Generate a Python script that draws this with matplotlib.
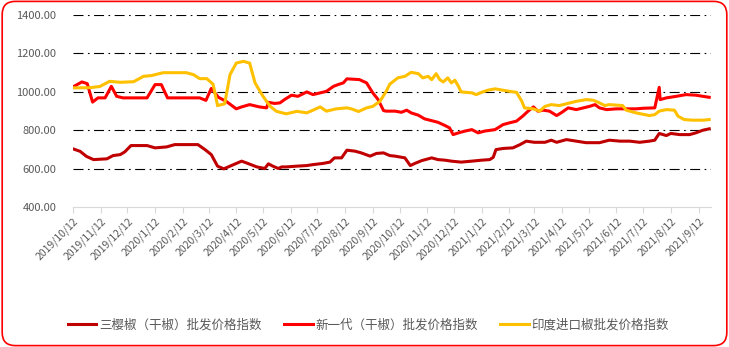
import pandas as pd
import matplotlib.pyplot as plt
import matplotlib.dates as mdates
from matplotlib.patches import FancyBboxPatch

plt.rcParams['font.family'] = ['Noto Sans CJK SC', 'DejaVu Sans']

#series names
name_sanying = "三樱椒（干椒）批发价格指数"
name_xinyidai = "新一代（干椒）批发价格指数"
name_india = "印度进口椒批发价格指数"

#三樱椒 index
sanying_dates = ["2019-10-12", "2019-10-20", "2019-10-27", "2019-11-04", "2019-11-19", "2019-11-26",
                 "2019-12-04", "2019-12-09", "2019-12-16", "2020-01-03", "2020-01-12", "2020-01-25",
                 "2020-02-03", "2020-02-29", "2020-03-08", "2020-03-15", "2020-03-22", "2020-03-29",
                 "2020-04-09", "2020-04-18", "2020-04-25", "2020-05-05", "2020-05-14", "2020-05-18",
                 "2020-05-23", "2020-05-29", "2020-06-02", "2020-06-07", "2020-06-19", "2020-06-30",
                 "2020-07-07", "2020-07-18", "2020-07-26", "2020-07-31", "2020-08-08", "2020-08-14",
                 "2020-08-23", "2020-08-30", "2020-09-09", "2020-09-16", "2020-09-24", "2020-10-01",
                 "2020-10-07", "2020-10-18", "2020-10-24", "2020-10-29", "2020-11-06", "2020-11-17",
                 "2020-11-24", "2020-12-02", "2020-12-09", "2020-12-20", "2021-01-01", "2021-01-12",
                 "2021-01-21", "2021-01-25", "2021-01-28", "2021-02-05", "2021-02-16", "2021-02-24",
                 "2021-03-03", "2021-03-12", "2021-03-24", "2021-03-31", "2021-04-06", "2021-04-17",
                 "2021-04-28", "2021-05-09", "2021-05-24", "2021-06-04", "2021-06-16", "2021-06-27",
                 "2021-07-08", "2021-07-19", "2021-07-25", "2021-07-30", "2021-08-07", "2021-08-12",
                 "2021-08-22", "2021-09-02", "2021-09-09", "2021-09-17", "2021-09-24"]
sanying_values = [704, 691, 665, 648, 652, 669,
                  674, 688, 721, 721, 709, 714,
                  726, 726, 700, 674, 614, 600,
                  622, 640, 628, 610, 602, 626,
                  614, 602, 610, 610, 614, 617,
                  622, 628, 635, 657, 657, 697,
                  692, 683, 666, 680, 683, 669,
                  666, 657, 617, 628, 643, 657,
                  648, 645, 640, 635, 640, 645,
                  648, 660, 700, 706, 709, 726,
                  744, 738, 738, 749, 738, 752,
                  744, 736, 736, 749, 744, 744,
                  738, 744, 749, 784, 773, 784,
                  778, 778, 787, 801, 808]

#新一代 index
xinyidai_dates = ["2019-10-12", "2019-10-22", "2019-10-28", "2019-11-03", "2019-11-09", "2019-11-17",
                  "2019-11-24", "2019-11-30", "2019-12-07", "2020-01-03", "2020-01-12", "2020-01-19",
                  "2020-01-26", "2020-03-02", "2020-03-09", "2020-03-15", "2020-03-23", "2020-04-01",
                  "2020-04-12", "2020-04-18", "2020-04-27", "2020-05-08", "2020-05-16", "2020-05-18",
                  "2020-05-25", "2020-05-31", "2020-06-05", "2020-06-13", "2020-06-20", "2020-06-30",
                  "2020-07-07", "2020-07-15", "2020-07-22", "2020-07-30", "2020-08-04", "2020-08-10",
                  "2020-08-14", "2020-08-28", "2020-09-05", "2020-09-12", "2020-09-18", "2020-09-24",
                  "2020-09-27", "2020-10-07", "2020-10-14", "2020-10-20", "2020-10-25", "2020-11-02",
                  "2020-11-09", "2020-11-19", "2020-11-24", "2020-12-02", "2020-12-07", "2020-12-11",
                  "2020-12-17", "2020-12-24", "2021-01-01", "2021-01-08", "2021-01-15", "2021-01-27",
                  "2021-02-05", "2021-02-12", "2021-02-20", "2021-02-27", "2021-03-05", "2021-03-11",
                  "2021-03-16", "2021-03-22", "2021-03-29", "2021-04-06", "2021-04-11", "2021-04-19",
                  "2021-04-28", "2021-05-06", "2021-05-13", "2021-05-19", "2021-05-24", "2021-06-01",
                  "2021-06-12", "2021-06-23", "2021-07-04", "2021-07-12", "2021-07-25", "2021-07-27",
                  "2021-07-30", "2021-07-31", "2021-08-07", "2021-08-18", "2021-08-29", "2021-09-09",
                  "2021-09-17", "2021-09-24"]
xinyidai_values = [1026, 1052, 1043, 947, 969, 969,
                   1029, 977, 969, 969, 1038, 1038,
                   969, 969, 956, 1018, 972, 950,
                   912, 922, 934, 922, 917, 946,
                   940, 943, 960, 983, 977, 1000,
                   986, 995, 1003, 1029, 1038, 1047,
                   1068, 1064, 1047, 995, 960, 903,
                   900, 900, 894, 905, 891, 879,
                   860, 848, 842, 825, 813, 778,
                   787, 796, 804, 787, 796, 804,
                   830, 839, 848, 874, 900, 922,
                   900, 905, 900, 877, 891, 917,
                   908, 917, 925, 934, 917, 908,
                   912, 912, 912, 915, 917, 960,
                   1024, 960, 969, 977, 986, 983,
                   977, 972]

#印度进口椒 index
india_dates = ["2019-10-12", "2019-10-31", "2019-11-11", "2019-11-22", "2019-12-04", "2019-12-19",
               "2019-12-30", "2020-01-08", "2020-01-21", "2020-02-16", "2020-02-24", "2020-03-02",
               "2020-03-10", "2020-03-17", "2020-03-22", "2020-03-30", "2020-04-05", "2020-04-12",
               "2020-04-20", "2020-04-27", "2020-05-03", "2020-05-12", "2020-05-20", "2020-05-27",
               "2020-06-07", "2020-06-19", "2020-06-30", "2020-07-07", "2020-07-15", "2020-07-22",
               "2020-08-02", "2020-08-14", "2020-08-19", "2020-08-27", "2020-09-05", "2020-09-12",
               "2020-09-20", "2020-09-27", "2020-10-01", "2020-10-10", "2020-10-18", "2020-10-25",
               "2020-11-02", "2020-11-07", "2020-11-13", "2020-11-17", "2020-11-22", "2020-11-26",
               "2020-11-30", "2020-12-05", "2020-12-09", "2020-12-13", "2020-12-17", "2020-12-20",
               "2021-01-01", "2021-01-06", "2021-01-12", "2021-01-19", "2021-01-27", "2021-02-01",
               "2021-02-12", "2021-02-20", "2021-02-26", "2021-03-01", "2021-03-11", "2021-03-18",
               "2021-03-24", "2021-03-31", "2021-04-09", "2021-04-21", "2021-04-28", "2021-05-09",
               "2021-05-17", "2021-05-24", "2021-05-30", "2021-06-04", "2021-06-19", "2021-06-23",
               "2021-07-04", "2021-07-19", "2021-07-25", "2021-07-30", "2021-08-07", "2021-08-16",
               "2021-08-20", "2021-08-27", "2021-09-06", "2021-09-17", "2021-09-24"]
india_values = [1021, 1022, 1028, 1055, 1050, 1053,
                1081, 1085, 1100, 1100, 1090, 1069,
                1069, 1040, 929, 938, 1090, 1150,
                1159, 1150, 1047, 977, 925, 899,
                886, 899, 891, 905, 922, 900,
                912, 917, 912, 898, 917, 925,
                951, 1003, 1040, 1073, 1081, 1102,
                1095, 1073, 1081, 1064, 1095, 1064,
                1052, 1073, 1047, 1061, 1029, 1000,
                995, 986, 998, 1009, 1016, 1012,
                1003, 998, 951, 917, 912, 900,
                925, 934, 929, 943, 951, 960,
                957, 943, 929, 934, 929, 905,
                891, 877, 882, 900, 908, 905,
                874, 856, 853, 853, 856]

#monthly tick positions
tick_dates = pd.date_range("2019-10-12", "2021-09-12", freq=pd.DateOffset(months=1))

fig = plt.figure(figsize=(7.29, 3.47), dpi=100)
ax = fig.add_axes([0.1001, 0.4026, 0.8752, 0.5542])

ax.plot(pd.to_datetime(sanying_dates), sanying_values, color='#C00000', linewidth=2.2, label=name_sanying)
ax.plot(pd.to_datetime(xinyidai_dates), xinyidai_values, color='#FF0000', linewidth=2.2, label=name_xinyidai)
ax.plot(pd.to_datetime(india_dates), india_values, color='#FFC000', linewidth=2.2, label=name_india)

#axes and grid
ax.set_ylim(400, 1400)
ax.set_yticks(range(400, 1401, 200))
ax.set_yticklabels([f"{v:.2f}" for v in range(400, 1401, 200)])
ax.set_xlim(pd.Timestamp("2019-10-12"), pd.Timestamp("2019-10-12") + pd.Timedelta(days=715))
ax.set_xticks(tick_dates)
ax.xaxis.set_major_formatter(mdates.DateFormatter("%Y/%-m/%-d"))
for y in range(600, 1401, 200):
    ax.axhline(y, color='black', linewidth=0.8, linestyle=(0, (9, 4, 1.5, 4)), zorder=0)

for side in ['top', 'right', 'left']:
    ax.spines[side].set_visible(False)
ax.spines['bottom'].set_color('#D9D9D9')
ax.tick_params(axis='y', length=0, labelsize=8, labelcolor='#595959', pad=12)
ax.tick_params(axis='x', length=4, color='#D9D9D9', labelsize=7.5, labelcolor='#595959', pad=2)
plt.setp(ax.get_xticklabels(), rotation=45, ha='right', rotation_mode='anchor')

#legend at the bottom
fig.legend(loc='center', bbox_to_anchor=(0.505, 0.063), ncol=3, frameon=False,
           fontsize=9, labelcolor='#595959', handlelength=2.3, handletextpad=0.2,
           columnspacing=1.8)

#rounded red frame
frame = FancyBboxPatch((0.003, 0.004), 0.994, 0.992, boxstyle="round,pad=0,rounding_size=0.018",
                       transform=fig.transFigure, facecolor='none', edgecolor='#FF0000',
                       linewidth=1.2, mutation_aspect=2.1)
fig.patches.append(frame)

fig.savefig("out.png", dpi=100)
